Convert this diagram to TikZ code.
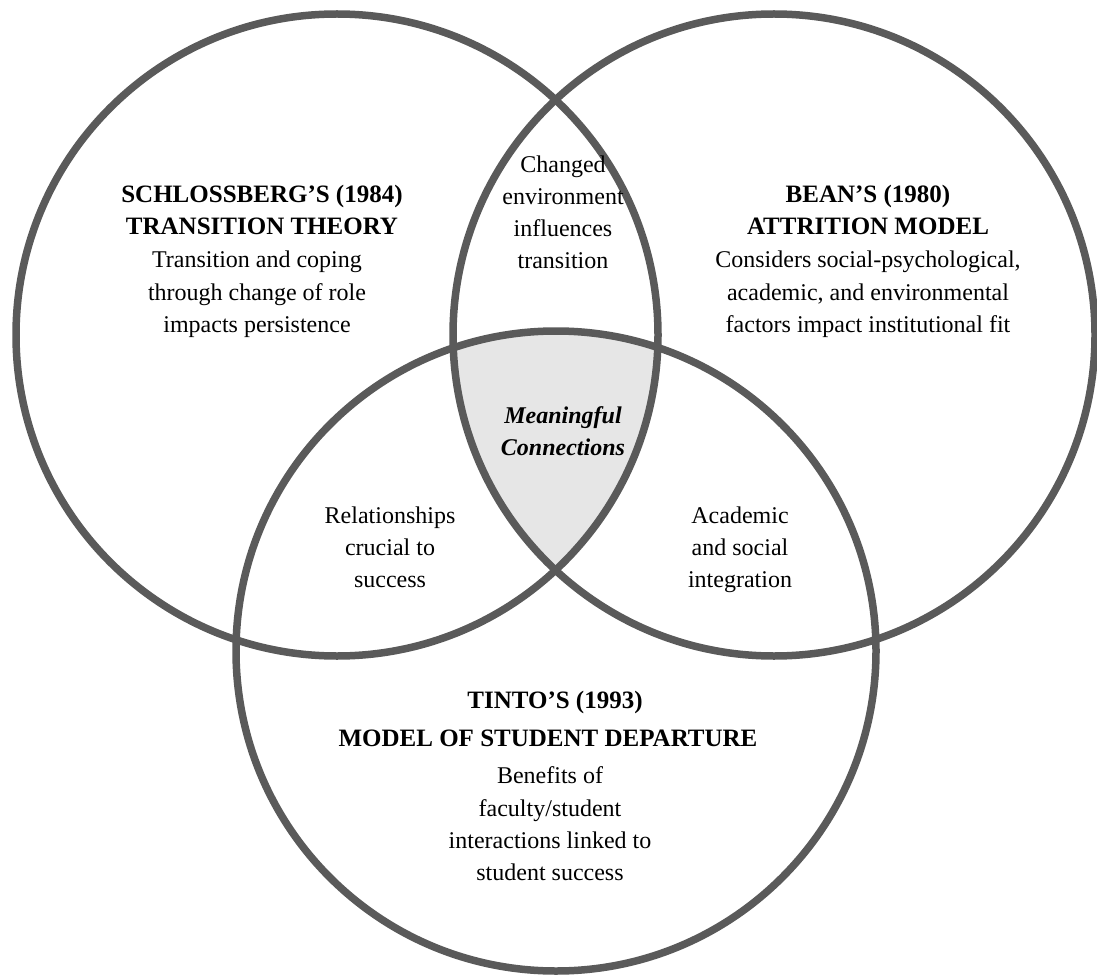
\documentclass[tikz,border=0pt]{standalone}
\usepackage{fontspec}
\setmainfont{Liberation Serif}
\definecolor{ring}{HTML}{5A5A5A}
\definecolor{core}{HTML}{E6E6E6}
\tikzset{
  ringline/.style={draw=ring, line width=7.5pt},
  hd/.style={anchor=base, inner sep=0pt, font=\fontsize{25}{32}\selectfont\bfseries},
  tx/.style={anchor=base, inner sep=0pt, font=\fontsize{24}{32}\selectfont},
  mc/.style={anchor=base, inner sep=0pt, font=\fontsize{24}{32}\selectfont\bfseries\itshape},
}
\begin{document}
\begin{tikzpicture}[x=1pt, y=-1pt]
\useasboundingbox (0,0) rectangle (1097,976);
\coordinate (L) at (337,335);
\coordinate (R) at (774,335);
\coordinate (B) at (556,651);
\begin{scope}
  \clip (L) circle (321);
  \clip (R) circle (321);
  \fill[core] (B) circle (320);
\end{scope}
\draw[ringline] (L) circle (321);
\draw[ringline] (R) circle (321);
\draw[ringline] (B) circle (320);
% left
\node[hd] (l1) at (262,203) {SCHLOSSBERG'S (1984)};
\node[hd] (l2) at (262,235) {TRANSITION THEORY};
\node[tx] (l3) at (257,268) {Transition and coping};
\node[tx] (l4) at (257,300) {through change of role};
\node[tx] (l5) at (257,332) {impacts persistence};
% right
\node[hd] (r1) at (868,203) {BEAN'S (1980)};
\node[hd] (r2) at (868,235) {ATTRITION MODEL};
\node[tx] (r3) at (868,268) {Considers social-psychological,};
\node[tx] (r4) at (868,300) {academic, and environmental};
\node[tx] (r5) at (868,332) {factors impact institutional fit};
% top middle
\node[tx] (m1) at (563,173) {Changed};
\node[tx] (m2) at (563,205) {environment};
\node[tx] (m3) at (563,237) {influences};
\node[tx] (m4) at (563,269) {transition};
% centre
\node[mc] (c1) at (563,423) {Meaningful};
\node[mc] (c2) at (563,455) {Connections};
% left-bottom
\node[tx] (a1) at (390,523) {Relationships};
\node[tx] (a2) at (390,555) {crucial to};
\node[tx] (a3) at (390,587) {success};
% right-bottom
\node[tx] (b1) at (740,523) {Academic};
\node[tx] (b2) at (740,555) {and social};
\node[tx] (b3) at (740,587) {integration};
% bottom
\node[hd] (t1) at (555,708) {TINTO'S (1993)};
\node[hd] (t2) at (548,746) {MODEL OF STUDENT DEPARTURE};
\node[tx] (t3) at (550,783) {Benefits of};
\node[tx] (t4) at (550,816) {faculty/student};
\node[tx] (t5) at (550,848) {interactions linked to};
\node[tx] (t6) at (550,880) {student success};
\end{tikzpicture}
\end{document}
